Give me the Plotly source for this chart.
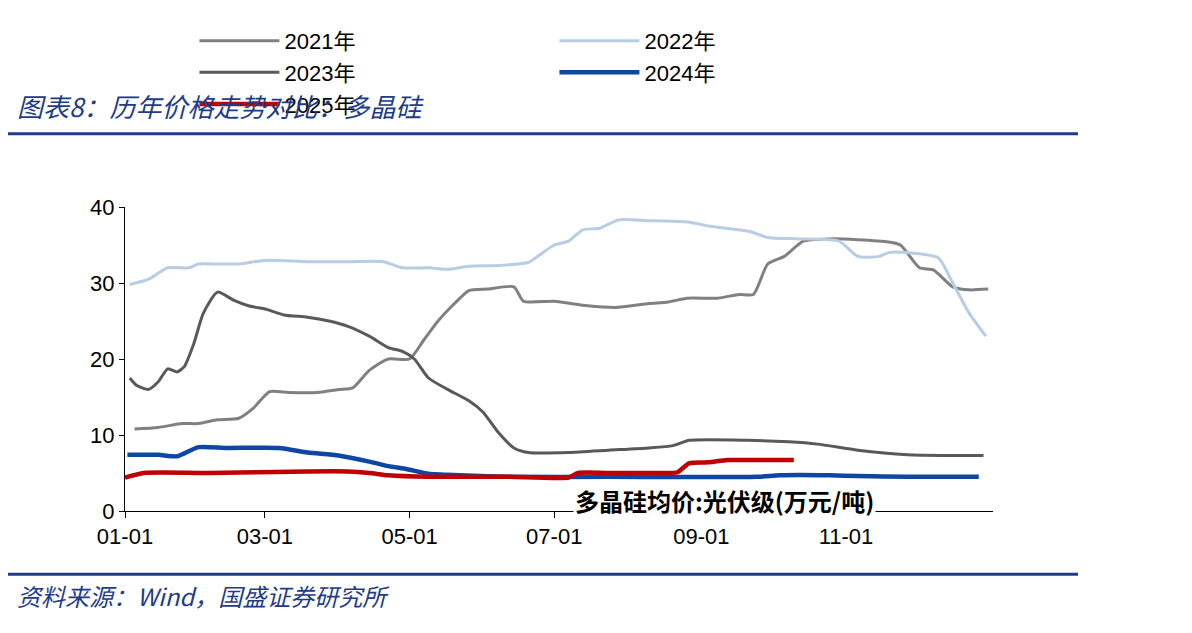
import plotly.graph_objects as go

# x = day of year (01-01 = 0), y = 万元/吨
tick_days = [0, 59, 120, 181, 243, 304]
tick_labels = ["01-01", "03-01", "05-01", "07-01", "09-01", "11-01"]

d2021 = [4, 14, 24, 31, 39, 48, 54, 61, 69, 81, 90, 96, 103, 111, 120, 126, 132, 138, 145, 153, 164, 168, 181, 195, 208, 221, 229, 237, 250, 259, 265, 271, 278, 286, 297, 309, 322, 327, 335, 341, 349, 356, 364]
v2021 = [10.8, 11, 11.5, 11.5, 12, 12.2, 13.5, 15.7, 15.6, 15.6, 16, 16.2, 18.5, 20, 20, 22.5, 25, 27, 29, 29.2, 29.5, 27.6, 27.6, 27, 26.8, 27.3, 27.5, 28, 28, 28.5, 28.5, 32.5, 33.5, 35.5, 35.8, 35.7, 35.4, 35, 32, 31.7, 29.5, 29.1, 29.2]

d2022 = [2, 10, 18, 27, 31, 39, 48, 60, 77, 94, 109, 117, 128, 136, 145, 157, 170, 174, 181, 187, 193, 200, 208, 221, 238, 246, 263, 271, 284, 301, 309, 318, 322, 330, 343, 349, 356, 363]
v2022 = [29.8, 30.5, 32, 32, 32.5, 32.5, 32.5, 33, 32.8, 32.8, 32.8, 32, 32, 31.8, 32.2, 32.3, 32.7, 33.5, 35, 35.5, 37, 37.2, 38.3, 38.2, 38, 37.5, 36.8, 36, 35.8, 35.5, 33.5, 33.5, 34, 34, 33.3, 30, 26, 23]

d2023 = [2, 5, 10, 14, 18, 22, 25, 29, 33, 39, 46, 52, 60, 67, 77, 86, 94, 103, 111, 117, 122, 128, 136, 145, 151, 157, 164, 170, 187, 204, 221, 231, 238, 263, 280, 292, 309, 330, 347, 362]
v2023 = [17.5, 16.5, 16, 17, 18.7, 18.3, 19, 22, 26, 28.8, 27.7, 27, 26.5, 25.8, 25.5, 25, 24.3, 23, 21.5, 21, 20, 17.5, 16, 14.5, 13, 10.5, 8.3, 7.7, 7.7, 8, 8.3, 8.6, 9.3, 9.3, 9.1, 8.8, 8, 7.4, 7.3, 7.3]

d2024 = [1, 14, 22, 31, 43, 65, 77, 90, 103, 111, 119, 128, 141, 162, 204, 267, 276, 297, 309, 330, 360]
v2024 = [7.4, 7.4, 7.2, 8.4, 8.3, 8.3, 7.7, 7.3, 6.5, 5.9, 5.5, 4.9, 4.7, 4.5, 4.5, 4.5, 4.7, 4.7, 4.6, 4.5, 4.5]

d2025 = [0, 8, 35, 77, 94, 103, 111, 128, 162, 187, 191, 204, 229, 233, 238, 246, 254, 267, 282]
v2025 = [4.4, 5.0, 5.0, 5.2, 5.2, 5.0, 4.7, 4.5, 4.5, 4.4, 5.0, 5.0, 5.0, 5.1, 6.3, 6.4, 6.7, 6.7, 6.7]

series = [
    ("2021年", d2021, v2021, "#808080", 3),
    ("2022年", d2022, v2022, "#B8CCE4", 3),
    ("2023年", d2023, v2023, "#595959", 3),
    ("2024年", d2024, v2024, "#0E47A1", 4.5),
    ("2025年", d2025, v2025, "#C00000", 4.5),
]

fig = go.Figure()
for name, x, y, color, w in series:
    fig.add_trace(go.Scatter(x=x, y=y, name=name, mode="lines",
                             line=dict(color=color, width=w, shape="spline", smoothing=0.6)))

# plot area: 868 x 361 px
pw, ph = 868, 361
blue = "#1F3C88"
font = "Liberation Sans, Arial, Noto Sans CJK SC"
fig.update_layout(
    width=1192, height=633,
    margin=dict(l=117, r=207, t=142, b=130),
    paper_bgcolor="white", plot_bgcolor="white",
    font=dict(family=font, size=22, color="black"),
    legend=dict(orientation="h", x=0.08, y=1.27, xanchor="left", yanchor="bottom",
                entrywidth=265, entrywidthmode="pixels", font=dict(size=22),
                tracegroupgap=0, itemwidth=80),
    xaxis=dict(range=[0, 366], tickvals=tick_days, ticktext=tick_labels,
               showgrid=False, zeroline=False, showline=True, linecolor="black",
               ticks="outside", ticklen=6, tickcolor="black"),
    yaxis=dict(range=[0, 40], tickvals=[0, 10, 20, 30, 40], showgrid=False,
               zeroline=False, showline=True, linecolor="black",
               ticks="outside", ticklen=5, tickcolor="black"),
    shapes=[
        dict(type="line", xref="paper", yref="paper", x0=-117 / pw, x1=(1070 - 117) / pw,
             y0=(503 - 55) / ph, y1=(503 - 55) / ph, line=dict(color=blue, width=3)),
        dict(type="line", xref="paper", yref="paper", x0=-117 / pw, x1=(1070 - 117) / pw,
             y0=-(578 - 503) / ph, y1=-(578 - 503) / ph, line=dict(color=blue, width=3)),
    ],
    annotations=[
        dict(text="<i>图表8：历年价格走势对比：多晶硅</i>", xref="paper", yref="paper",
             x=-110 / pw, y=(503 - 22) / ph, xanchor="left", yanchor="middle", showarrow=False,
             font=dict(size=26, color=blue, family="Noto Sans CJK SC")),
        dict(text="<i>资料来源：Wind，国盛证券研究所</i>", xref="paper", yref="paper",
             x=-110 / pw, y=-(603 - 503) / ph, xanchor="left", yanchor="middle", showarrow=False,
             font=dict(size=24, color=blue, family="Noto Sans CJK SC")),
        dict(text="<b>多晶硅均价:光伏级(万元/吨)</b>", xref="paper", yref="paper",
             x=(565 - 117) / pw, y=(503 - 490) / ph, xanchor="left", yanchor="middle", showarrow=False,
             bgcolor="white", font=dict(size=24, color="black", family="Noto Sans CJK SC")),
    ],
)

fig.write_html("out.html")
